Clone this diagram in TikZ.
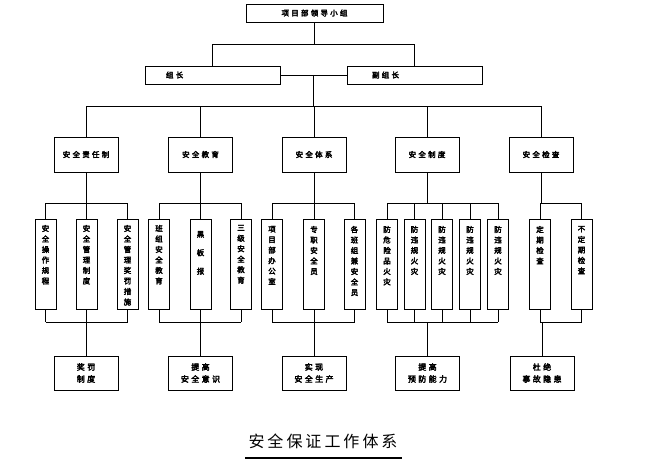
\documentclass[tikz,border=0pt]{standalone}
\usepackage{fontspec}
\newfontfamily\cjkb[FakeBold=3.5,LetterSpace=30]{Noto Sans CJK SC}
\newfontfamily\cjkt{Noto Sans CJK SC}
\begin{document}
\begin{tikzpicture}[x=1pt,y=-1pt,line width=0.9pt,
  hbox/.style={draw,rectangle,inner sep=0pt,align=center,font=\cjkb\fontsize{7.5}{12}\selectfont},
  lbl/.style={inner sep=0pt,anchor=west,font=\cjkb\fontsize{7.5}{12}\selectfont},
  vbox/.style={draw,rectangle,inner sep=0pt,minimum width=21pt,minimum height=90pt},
  vtxt/.style={inner sep=0pt,anchor=north,align=center,font=\cjkb\fontsize{7.5}{10.5}\selectfont},
  gbox/.style={hbox,minimum width=64pt,minimum height=35pt},
  rbox/.style={hbox,minimum width=64pt,minimum height=34pt,font=\cjkb\fontsize{8}{12}\selectfont},
]
\useasboundingbox (0,0) rectangle (667,460);

% top levels
\node[hbox,minimum width=137pt,minimum height=18pt] (top) at (314.5,13) {项目部领导小组};
\node[hbox,minimum width=135pt,minimum height=18pt] (zl) at (212.5,75) {};
\node[lbl] (zlt) at ([xshift=21pt]zl.west) {组长};
\node[hbox,minimum width=135pt,minimum height=18pt] (fzl) at (414.5,75) {};
\node[lbl] (fzlt) at ([xshift=25pt]fzl.west) {副组长};

\coordinate (b1) at (314,44);
\coordinate (b2) at (313.5,106);
\coordinate (b3) at (314,203);
\coordinate (b4) at (314,322);

\draw (top.south) -- (top.south |- b1);
\draw (zl.north) -- (zl.north |- b1) -- (fzl.north |- b1) -- (fzl.north);
\draw (zl.east) -- (fzl.west);
\draw (zl.east -| b2) -- (b2);

% level 2
\node[gbox] (g1) at (86,154.5) {安全责任制};
\node[gbox] (g2) at (200.5,154.5) {安全教育};
\node[gbox] (g3) at (314,154.5) {安全体系};
\node[gbox] (g4) at (427,154.5) {安全制度};
\node[gbox] (g5) at (541,154.5) {安全检查};

\draw (g1.north |- b2) -- (g5.north |- b2);
\foreach \g in {g1,g2,g3,g4,g5} \draw (\g.north |- b2) -- (\g.north);

% level 3
\node[vbox] (s11) at (45.5,264) {};
\node[vbox] (s12) at (86.5,264) {};
\node[vbox] (s13) at (127.5,264) {};
\node[vbox] (s21) at (159,264) {};
\node[vbox] (s22) at (200.5,264) {};
\node[vbox] (s23) at (241,264) {};
\node[vbox] (s31) at (272,264) {};
\node[vbox] (s32) at (314,264) {};
\node[vbox] (s33) at (354.5,264) {};
\node[vbox] (s41) at (387,264) {};
\node[vbox] (s42) at (414.5,264) {};
\node[vbox] (s43) at (442,264) {};
\node[vbox] (s44) at (470,264) {};
\node[vbox] (s45) at (498,264) {};
\node[vbox] (s51) at (540,264) {};
\node[vbox] (s52) at (581.5,264) {};

\node[vtxt] (t11) at ([yshift=-6pt]s11.north) {安\\全\\操\\作\\规\\程};
\node[vtxt] (t12) at ([yshift=-6pt]s12.north) {安\\全\\管\\理\\制\\度};
\node[vtxt] (t13) at ([yshift=-6pt]s13.north) {安\\全\\管\\理\\奖\\罚\\措\\施};
\node[vtxt] (t21) at ([yshift=-6pt]s21.north) {班\\组\\安\\全\\教\\育};
\node[vtxt,font=\cjkb\fontsize{7.5}{18.5}\selectfont] (t22) at ([yshift=-12pt]s22.north) {黑\\板\\报};
\node[vtxt] (t23) at ([yshift=-6pt]s23.north) {三\\级\\安\\全\\教\\育};
\node[vtxt] (t31) at ([yshift=-7pt]s31.north) {项\\目\\部\\办\\公\\室};
\node[vtxt] (t32) at ([yshift=-7pt]s32.north) {专\\职\\安\\全\\员};
\node[vtxt] (t33) at ([yshift=-7pt]s33.north) {各\\班\\组\\兼\\安\\全\\员};
\node[vtxt] (t41) at ([yshift=-7pt]s41.north) {防\\危\\险\\品\\火\\灾};
\node[vtxt] (t42) at ([yshift=-7pt]s42.north) {防\\违\\规\\火\\灾};
\node[vtxt] (t43) at ([yshift=-7pt]s43.north) {防\\违\\规\\火\\灾};
\node[vtxt] (t44) at ([yshift=-7pt]s44.north) {防\\违\\规\\火\\灾};
\node[vtxt] (t45) at ([yshift=-7pt]s45.north) {防\\违\\规\\火\\灾};
\node[vtxt] (t51) at ([yshift=-7pt]s51.north) {定\\期\\检\\查};
\node[vtxt] (t52) at ([yshift=-7pt]s52.north) {不\\定\\期\\检\\查};

% bottom results
\node[rbox] (r1) at (86,373) {奖罚\\制度};
\node[rbox] (r2) at (200.5,373) {提高\\安全意识};
\node[rbox] (r3) at (314,373) {实现\\安全生产};
\node[rbox] (r4) at (427.5,373) {提高\\预防能力};
\node[rbox] (r5) at (542,373) {杜绝\\事故隐患};

% group connectors
\foreach \g/\a/\z/\r/\subs in {g1/s11/s13/r1/{s11,s12,s13},g2/s21/s23/r2/{s21,s22,s23},g3/s31/s33/r3/{s31,s32,s33},g4/s41/s45/r4/{s41,s42,s43,s44,s45},g5/s51/s52/r5/{s51,s52}}{
  \draw (\g.south) -- (\g.south |- b3);
  \draw (\a.north |- b3) -- (\z.north |- b3);
  \draw (\a.south |- b4) -- (\z.south |- b4);
  \draw (\r.north |- b4) -- (\r.north);
  \foreach \s in \subs {
    \draw (\s.north |- b3) -- (\s.north);
    \draw (\s.south) -- (\s.south |- b4);
  }
}

% title
\node[inner sep=0pt,font=\cjkt\fontsize{16}{16}\selectfont] (title) at (323,441) {安\kern3pt 全\kern3pt 保\kern3pt 证\kern3pt 工\kern3pt 作\kern3pt 体\kern3pt 系};
\coordinate (u1) at (245,458);
\coordinate (u2) at (402,458);
\draw[line width=2.6pt] (u1) -- (u2);
\end{tikzpicture}
\end{document}
